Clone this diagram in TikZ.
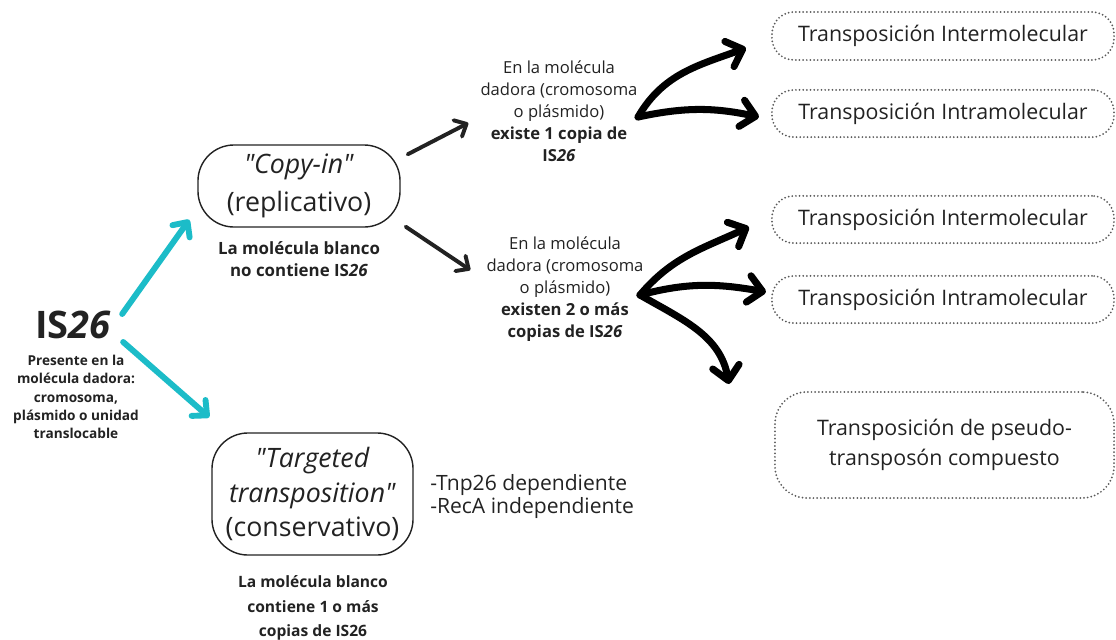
\documentclass[tikz,border=0pt]{standalone}
\usepackage{fontspec}
\setmainfont{Open Sans}[Ligatures=TeXOff]
\usepackage{tikz}
\usetikzlibrary{arrows.meta}

\definecolor{ink}{HTML}{222222}
\definecolor{cyan26}{HTML}{1CBCC8}

\begin{document}
\begin{tikzpicture}[x=0.025cm, y=-0.025cm,
		solidbox/.style={draw=ink, line width=1pt, rounded corners=0.9cm, align=center, text=ink, inner sep=0pt},
		dotbox/.style={draw=ink!75, line width=1.4pt, line cap=round, dash pattern=on 0pt off 2.6pt,
			rounded corners=0.55cm, align=center, text=ink, inner sep=0pt,
			font=\fontsize{15.2}{21}\selectfont},
		boldnote/.style={align=center, text=ink, inner sep=0pt, font=\fontsize{12}{15.6}\selectfont\bfseries},
		midtext/.style={align=center, text=ink, inner sep=0pt, font=\fontsize{11.8}{15.6}\selectfont},
		cyanarrow/.style={draw=cyan26, line width=4.2pt, line cap=round, -{Straight Barb[length=8pt, width=15pt, round]}},
		thinarrow/.style={draw=ink, line width=2.8pt, line cap=round, -{Straight Barb[length=7pt, width=13pt, round]}},
		brusharrow/.style={draw=black, line width=5pt, line cap=round, -{Straight Barb[length=10pt, width=19pt, round]}}]

		\useasboundingbox (0,0) rectangle (1116,639);

		% IS26 in the donor molecule
		\node[inner sep=0pt, text=ink, font=\fontsize{27}{30}\selectfont\bfseries] (is26) at (73,325) {IS\textit{26}};
		\node[boldnote, font=\fontsize{9.7}{13.1}\selectfont\bfseries] (donor) at (76,397)
			{Presente en la\\molécula dadora:\\cromosoma,\\plásmido o unidad\\translocable};

		% two ways of moving
		\node[solidbox, minimum width=5.05cm, minimum height=2.05cm, font=\fontsize{19}{27}\selectfont] (copy) at (299,186)
			{\textit{"Copy-in"}\\(replicativo)};
		\node[boldnote] (copynote) at (299,259) {La molécula blanco\\no contiene IS\textit{26}};

		\node[solidbox, minimum width=5.025cm, minimum height=3.05cm, font=\fontsize{19}{24.5}\selectfont] (targ) at (312.5,494)
			{\textit{"Targeted}\\\textit{transposition"}\\(conservativo)};
		\node[boldnote, font=\fontsize{11.1}{17.6}\selectfont\bfseries] (targnote) at (313,608)
			{La molécula blanco\\contiene 1 o más\\copias de IS26};
		\node[anchor=west, align=left, inner sep=0pt, text=ink, font=\fontsize{15}{16.4}\selectfont] (tnp) at (430,496.5)
			{-Tnp26 dependiente\\-RecA independiente};

		\draw[cyanarrow] ([shift={(11,-11)}]is26.east) -- ([shift={(-8,-8)}]copy.south west);
		\draw[cyanarrow] ([shift={(12,17)}]is26.east) -- ([shift={(-2,-15)}]targ.north west);

		% copies in the donor molecule
		\node[midtext] (blk1) at (559,111) {En la molécula\\dadora (cromosoma\\o plásmido)\\\textbf{existe 1 copia de}\\\textbf{IS\textit{26}}};
		\node[midtext] (blk2) at (565,289) {En la molécula\\dadora (cromosoma\\o plásmido)\\\textbf{existen 2 o más}\\\textbf{copias de IS\textit{26}}};

		\draw[thinarrow] ([shift={(7,10)}]copy.north east) -- ([shift={(-12,12)}]blk1.west);
		\draw[thinarrow] ([shift={(5,-1)}]copy.south east) -- ([shift={(-16,-19)}]blk2.west);

		% outcomes
		\node[dotbox, minimum width=8.55cm, minimum height=1.2cm] (inter1) at (943,36) {Transposición Intermolecular};
		\node[dotbox, minimum width=8.55cm, minimum height=1.18cm] (intra1) at (943,113.5) {Transposición Intramolecular};
		\node[dotbox, minimum width=8.55cm, minimum height=1.18cm] (inter2) at (943,219.5) {Transposición Intermolecular};
		\node[dotbox, minimum width=8.55cm, minimum height=1.18cm] (intra2) at (943,299.5) {Transposición Intramolecular};
		\node[dotbox, minimum width=8.475cm, minimum height=2.65cm, rounded corners=0.8cm] (pseudo) at (944.5,445)
			{Transposición de pseudo-\\transposón compuesto};

		\coordinate (fork1) at (638,117);
		\coordinate (fork2) at (640,295);

		\draw[brusharrow] (fork1) to[out=60, in=200] ([shift={(-25,12)}]inter1.west);
		\draw[brusharrow] (fork1) to[out=12, in=168] ([shift={(-12,3.5)}]intra1.west);
		\draw[brusharrow] (fork2) to[out=50, in=205] ([shift={(-22,7.5)}]inter2.west);
		\draw[brusharrow] (fork2) to[out=15, in=170] ([shift={(-5,-7.5)}]intra2.west);
		\draw[brusharrow] (fork2) to[out=-30, in=100] ([shift={(-45,-7)}]pseudo.north west);

	\end{tikzpicture}
\end{document}
